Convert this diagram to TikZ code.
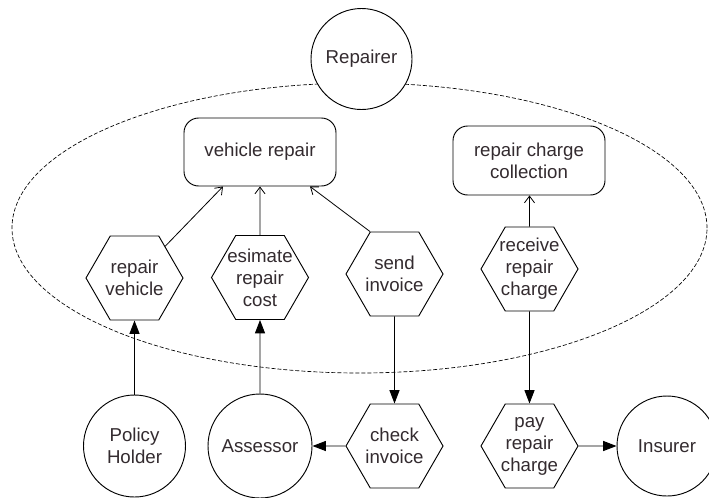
\documentclass[tikz,border=0pt]{standalone}
\usepackage{fontspec}
\setmainfont{Liberation Sans}
\usetikzlibrary{shapes.geometric,arrows.meta}
\definecolor{ink}{HTML}{332B2F}
\begin{document}
\begin{tikzpicture}[x=0.75pt,y=-0.75pt,
  every node/.style={font=\fontsize{14pt}{16.5pt}\selectfont, text=ink, line width=0.7pt},
  actor/.style={draw, fill=white, circle, inner sep=0pt, minimum size=#1, align=center},
  usecase/.style={draw, fill=white, regular polygon, regular polygon sides=6,
    minimum size=72.75pt, inner sep=-20pt, align=center},
  goalbox/.style={draw, fill=white, rounded corners=11pt, minimum width=114pt,
    minimum height=51pt, align=center},
  flow/.style={-{Triangle[length=10pt,width=7.5pt]}, line width=0.7pt},
  contrib/.style={-{Straight Barb[length=5pt,width=7.5pt]}, line width=0.6pt},
  boundary/.style={draw, dash pattern=on 3pt off 1.5pt, line width=0.5pt, ellipse,
    inner sep=0pt, minimum width=521.25pt, minimum height=217.5pt}
]
\useasboundingbox (0,0) rectangle (709,497);

% system boundary of the repairer
\node[boundary] (sysbound) at (359.5,228) {};

% actors
\node[actor=75.75pt] (repairer) at (361.5,59) {Repairer};
\node[actor=76.5pt] (holder) at (134.5,446) {Policy\\Holder};
\node[actor=78pt] (assessor) at (260,446) {Assessor};
\node[actor=75pt] (insurer) at (667,446) {Insurer};

% goals
\node[goalbox] (vrep) at (260,152) {vehicle repair};
\node[goalbox, minimum height=51.75pt] (rcc) at (529,160.5) {repair charge\\collection};

% tasks
\node[usecase] (rv) at (134.5,278) {repair\\vehicle};
\node[usecase] (est) at (260,277.5) {esimate\\repair\\cost};
\node[usecase] (send) at (394.5,274) {send\\invoice};
\node[usecase] (recv) at (529.5,269) {receive\\repair\\charge};
\node[usecase] (check) at (394.5,446) {check\\invoice};
\node[usecase] (pay) at (529.5,446) {pay\\repair\\charge};

% contributions to goals
\draw[contrib] (rv) -- ([xshift=-27.75pt]vrep.south);
\draw[contrib] (est) -- (est |- vrep.south);
\draw[contrib] (send.120) -- ([xshift=37.5pt]vrep.south);
\draw[contrib] (recv) -- (recv |- rcc.south);

% dependencies
\draw[flow] (holder) -- (rv);
\draw[flow] (assessor) -- (est);
\draw[flow] (send) -- (check);
\draw[flow] (check) -- (assessor);
\draw[flow] (recv) -- (pay);
\draw[flow] (pay) -- (insurer);
\end{tikzpicture}
\end{document}
